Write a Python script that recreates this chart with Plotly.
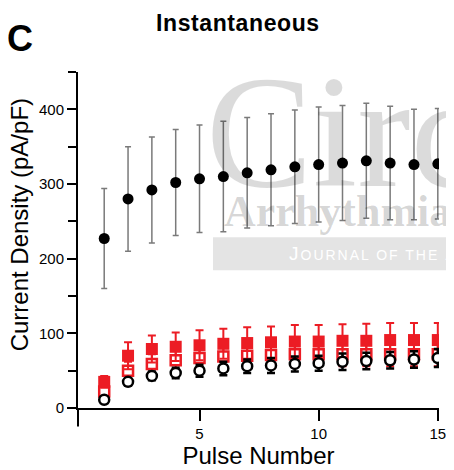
import plotly.graph_objects as go

# pulse index
pulses = list(range(1, 16))

# black filled circles (mean +/- SD)
filled_circ = [227, 280, 292, 302, 307, 310, 315, 319, 323, 326, 328, 331, 328, 326, 327]
filled_circ_err = [67, 70, 71, 71, 72, 74, 74, 75, 76, 77, 77, 77, 76, 74, 74]

# red filled squares
filled_sq = [35, 70, 79, 82, 84, 86, 87, 88, 89, 89, 90, 90, 91, 91, 91]
filled_sq_err = [8, 18, 18, 19, 20, 20, 21, 21, 22, 22, 22, 23, 23, 23, 23]

# red open squares
open_sq = [22, 50, 59, 64, 67, 69, 70, 71, 72, 72, 72, 72, 72, 72, 72]
open_sq_err = [6, 12, 13, 14, 14, 15, 15, 15, 15, 15, 16, 16, 16, 16, 16]

# black open circles
open_circ = [11, 35, 43, 47, 50, 53, 56, 57, 59, 60, 62, 63, 64, 65, 67]
open_circ_err = [3, 5, 6, 7, 8, 9, 9, 10, 10, 10, 11, 11, 11, 11, 12]

y_ticks = [0, 100, 200, 300, 400]
y_minor = [50, 150, 250, 350, 450]
x_ticks = [5, 10, 15]

RED = '#ec1c24'
FONT = 'Liberation Sans, Arial, sans-serif'
SERIF = 'Liberation Serif, Times New Roman, serif'

fig = go.Figure()

# watermark bar (behind data)
fig.add_shape(type='rect', xref='paper', yref='paper', x0=0.374, x1=1.05, y0=0.41, y1=0.508,
              fillcolor='#e4e4e4', line_width=0, layer='below')

fig.add_trace(go.Scatter(
    x=pulses, y=open_sq, mode='markers',
    marker=dict(symbol='square', size=10, color='white', line=dict(color=RED, width=2.5)),
    error_y=dict(type='data', array=open_sq_err, color=RED, thickness=2, width=4),
    showlegend=False))

fig.add_trace(go.Scatter(
    x=pulses, y=filled_sq, mode='markers',
    marker=dict(symbol='square', size=12, color=RED, line=dict(width=0)),
    error_y=dict(type='data', array=filled_sq_err, color=RED, thickness=2, width=4),
    showlegend=False))

fig.add_trace(go.Scatter(
    x=pulses, y=open_circ, mode='markers',
    marker=dict(symbol='circle', size=10, color='white', line=dict(color='black', width=2.5)),
    error_y=dict(type='data', array=open_circ_err, color='black', thickness=2.5, width=4),
    showlegend=False))

fig.add_trace(go.Scatter(
    x=pulses, y=filled_circ, mode='markers',
    marker=dict(symbol='circle', size=11, color='black'),
    error_y=dict(type='data', array=filled_circ_err, color='#7a7a7a', thickness=1.5, width=3),
    showlegend=False))

# y axis stub below the x axis
fig.add_shape(type='line', xref='paper', yref='paper', x0=0, x1=0, y0=0, y1=-0.055,
              line=dict(color='black', width=2))

# page body has an 8px margin, so the figure is 8px smaller and margins shifted
fig.update_layout(
    width=446, height=462,
    margin=dict(l=70, r=15, t=64, b=62),
    paper_bgcolor='white', plot_bgcolor='rgba(0,0,0,0)',
    font=dict(family=FONT, color='black'),
    xaxis=dict(range=[-0.1, 15.05], tickvals=x_ticks, showline=True, linecolor='black',
               linewidth=2, ticks='outside', ticklen=11, tickwidth=2, tickcolor='black',
               showgrid=False, zeroline=False, tickfont=dict(size=15), automargin=False,
               title=dict(text='Pulse Number', font=dict(size=24), standoff=2)),
    yaxis=dict(range=[0, 450], tickvals=y_ticks, showline=True, linecolor='black',
               linewidth=2, ticks='outside', ticklen=9, tickwidth=2, tickcolor='black',
               minor=dict(tickvals=y_minor, ticklen=8, tickwidth=2, tickcolor='black',
                          ticks='outside'),
               showgrid=False, zeroline=False, tickfont=dict(size=15), automargin=False),
    annotations=[
        dict(text='Current Density (pA/pF)', xref='paper', yref='paper', x=-0.163, y=0.544,
             xanchor='center', yanchor='middle', textangle=-90, showarrow=False,
             font=dict(size=24)),
        dict(text='<b><span style="letter-spacing:0.6px">Instantaneous</span></b>',
             xref='paper', yref='paper', x=0.442, y=1.146, xanchor='center', yanchor='middle',
             showarrow=False, font=dict(size=23)),
        dict(text='<b>C</b>', xref='paper', yref='paper', x=-0.161, y=1.101,
             xanchor='center', yanchor='middle', showarrow=False, font=dict(size=36)),
        # journal watermark
        dict(text='Circulation', xref='paper', yref='paper', x=0.35, y=0.55, xanchor='left',
             yanchor='bottom', showarrow=False,
             font=dict(family=SERIF, size=160, color='rgba(0,0,0,0.14)')),
        dict(text='<b>Arrhythmia and Electrophysiology</b>', xref='paper', yref='paper',
             x=0.4, y=0.505, xanchor='left', yanchor='bottom', showarrow=False,
             font=dict(family=SERIF, size=44, color='rgba(0,0,0,0.17)')),
        dict(text='<span style="letter-spacing:2px">J<span style="font-size:14px">OURNAL OF THE</span> '
                  'A<span style="font-size:14px">MERICAN</span></span>',
             xref='paper', yref='paper', x=0.58, y=0.459, xanchor='left', yanchor='middle',
             showarrow=False, font=dict(family=FONT, size=19, color='white')),
    ],
)

fig.write_html('out.html')
